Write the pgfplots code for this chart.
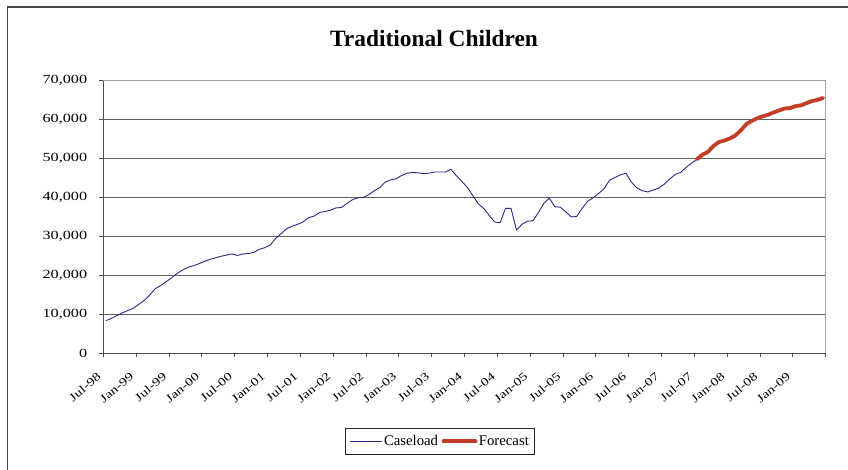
\documentclass[border=0pt]{standalone}
\usepackage{fontspec}
\setmainfont{Liberation Serif}
\newfontfamily\widefont{Liberation Serif}[FakeStretch=1.3]
\usepackage{pgfplots}
\usepackage{pgfplotstable}
\pgfplotsset{compat=1.18}

\definecolor{caseblue}{RGB}{45,40,135}
\definecolor{forered}{RGB}{194,62,40}
\definecolor{gridgray}{RGB}{95,95,95}
\definecolor{axisgray}{RGB}{80,80,80}
\definecolor{bordergray}{RGB}{168,160,160}
\definecolor{framedark}{RGB}{70,70,70}

% monthly caseload, month 0 = Jul-98
\pgfplotstableread{
i v
0 8300
1 8900
2 9600
3 10300
4 10900
5 11500
6 12500
7 13500
8 14900
9 16500
10 17300
11 18300
12 19300
13 20400
14 21300
15 22000
16 22400
17 22900
18 23500
19 24000
20 24400
21 24800
22 25100
23 25400
24 25000
25 25400
26 25500
27 25800
28 26600
29 27000
30 27700
31 29400
32 30600
33 31900
34 32500
35 33000
36 33600
37 34700
38 35100
39 36000
40 36300
41 36600
42 37200
43 37300
44 38300
45 39300
46 39800
47 39900
48 40600
49 41600
50 42400
51 43800
52 44400
53 44700
54 45500
55 46100
56 46300
57 46200
58 46000
59 46100
60 46400
61 46400
62 46400
63 47100
64 45500
65 44000
66 42500
67 40400
68 38300
69 37100
70 35300
71 33600
72 33400
73 37100
74 37100
75 31500
76 33000
77 33800
78 33900
79 36000
80 38400
81 39700
82 37500
83 37400
84 36200
85 34900
86 35000
87 37100
88 38900
89 39800
90 40900
91 42100
92 44300
93 45000
94 45700
95 46100
96 43800
97 42300
98 41600
99 41300
100 41800
101 42300
102 43300
103 44600
104 45800
105 46300
106 47600
107 48700
108 49700
}\caseload

% forecast from Jul-07 onward
\pgfplotstableread{
i v
108 49700
109 50900
110 51600
111 53100
112 54100
113 54500
114 55000
115 55800
116 57100
117 58700
118 59500
119 60200
120 60700
121 61100
122 61700
123 62200
124 62700
125 62800
126 63300
127 63500
128 64100
129 64600
130 64900
131 65400
}\forecast

\pgfplotsset{
  legend image code/.code={\draw[#1] (0bp,0bp) -- (32bp,0bp);},
}

\begin{document}
\begin{tikzpicture}
\useasboundingbox (0bp,0bp) rectangle (848bp,470bp);
% outer chart frame
\draw[framedark, line width=1.4bp] (7.5bp,-20bp) -- (7.5bp,463bp) -- (880bp,463bp);
\node[anchor=base, font=\fontsize{23.5}{27}\selectfont\bfseries] at (434bp,423bp) {Traditional Children};
\begin{axis}[
  at={(103.3bp,117bp)}, anchor=south west,
  scale only axis, width=722.4bp, height=273bp,
  xmin=-0.5, xmax=131.5, ymin=0, ymax=70000,
  axis lines=left, axis line style={-, axisgray, line width=1bp},
  tick align=outside, major tick length=4bp,
  tick style={axisgray, line width=0.8bp},
  xtick={-0.5,5.5,...,131.5},
  xticklabels={Jul-98,Jan-99,Jul-99,Jan-00,Jul-00,Jan-01,Jul-01,Jan-02,Jul-02,Jan-03,Jul-03,Jan-04,Jul-04,Jan-05,Jul-05,Jan-06,Jul-06,Jan-07,Jul-07,Jan-08,Jul-08,Jan-09,{}},
  ytick={0,10000,...,70000},
  scaled y ticks=false,
  /pgf/number format/assume math mode=true,
  yticklabel style={/pgf/number format/1000 sep={,}, font=\widefont\fontsize{12.5}{14}\selectfont, anchor=east, inner sep=0pt, xshift=-12bp},
  xticklabel style={font=\widefont\fontsize{11.5}{13}\selectfont, inner sep=0pt, xshift=-4bp, yshift=-18bp, rotate=40, anchor=east},
  ymajorgrids, major grid style={gridgray, line width=0.8bp},
  legend columns=2,
  legend style={at={(0.4661,-0.3236)}, anchor=center, draw=black!85, line width=0.8bp,
    font=\fontsize{14.8}{17}\selectfont, inner xsep=4.5bp, inner ysep=5.5bp,
    nodes={inner sep=1.5bp},
    /tikz/every even column/.append style={column sep=2bp}},
  clip=false,
]
\addplot[caseblue, line width=0.9bp, line join=round] table[x=i, y=v]{\caseload};
\addlegendentry{Caseload}
\addplot[forered, line width=3.8bp, line join=round, line cap=round] table[x=i, y=v]{\forecast};
\addlegendentry{Forecast}
\draw[bordergray, line width=1bp] (rel axis cs:0,1) -- (rel axis cs:1,1) -- (rel axis cs:1,0);
\end{axis}
\end{tikzpicture}
\end{document}
